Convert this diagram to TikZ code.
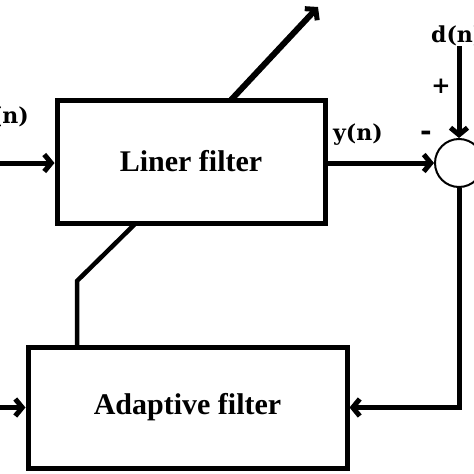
\documentclass[tikz,border=0pt]{standalone}
\usepackage{fontspec}
\setmainfont{Liberation Serif}
\newfontfamily\labfont{DejaVu Serif}
\usetikzlibrary{arrows.meta}
\begin{document}
\begin{tikzpicture}[x=1pt,y=-1pt,
  box/.style={draw, line width=5pt, rectangle, inner sep=0pt, font=\fontsize{30}{30}\selectfont\bfseries},
  conn/.style={line width=5pt},
  arr/.style={line width=5pt, -{Straight Barb[length=7pt,width=17pt,line width=5pt]}},
  lab/.style={inner sep=0pt, font=\labfont\bfseries\fontsize{22}{22}\selectfont},
  sgn/.style={inner sep=0pt, font=\labfont\bfseries\fontsize{23}{23}\selectfont},
  msgn/.style={inner sep=0pt, font=\labfont\bfseries\fontsize{28}{28}\selectfont}]
\useasboundingbox (0,0) rectangle (474,474);
\fill[white] (0,0) rectangle (474,474);
% blocks
\node[box, minimum width=268pt, minimum height=123pt] (lf) at (191,161.5) {Liner filter};
\node[box, minimum width=319pt, minimum height=121pt] (af) at (187.5,407.5) {Adaptive filter};
\node[draw, circle, line width=2pt, minimum size=48pt, inner sep=0pt] (s) at (459,163) {};
% labels
\node[lab, anchor=east] (xl) at (29,117) {x(n)};
\node[lab] (yl) at (358,135) {y(n)};
\node[lab, anchor=west] (dl) at (431,36) {d(n)};
\node[sgn] (pl) at (441,86) {+};
\node[msgn] (mi) at (426,136) {-};
% coordinates
\coordinate (xin) at (-5,163);
\coordinate (ain) at (-5,407.5);
\coordinate (dtop) at (459,46);
\coordinate (t1) at (231,100);
\coordinate (t2) at (318,7);
\coordinate (b1) at (136,223);
\coordinate (b2) at (77,281);
\coordinate (b3) at (77,347);
% connectors
\draw[arr] (xin) -- (xin -| lf.west);
\draw[arr] (s.west -| lf.east) -- (s.west);
\draw[arr] (dtop) -- (s.north);
\draw[arr] (s.south) |- (af.east);
\draw[arr] (ain) -- (af.west);
\draw[arr, line width=6pt] (t1) -- (t2);
\draw[line width=4.5pt, line join=miter] (b1) -- (b2) -- (b3);
\end{tikzpicture}
\end{document}
